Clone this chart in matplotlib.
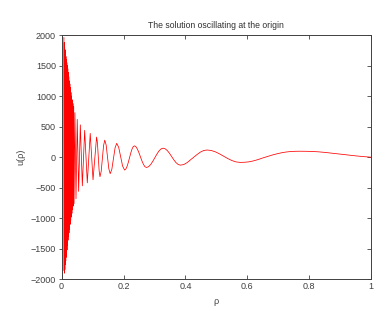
"""Wykres: rozwiazanie oscylujace w poczatku ukladu"""
import numpy as np
import matplotlib
matplotlib.use('Agg')
import matplotlib.pyplot as plt

# punkty - gesta czesc przy zerze (tylko ekstrema)
RHO_NEAR = [0.0075, 0.0081, 0.0087, 0.0093, 0.0099, 0.0106, 0.0113, 0.0120,
            0.0127, 0.0134, 0.0141, 0.0148, 0.0155, 0.0162, 0.0169, 0.0176,
            0.0184, 0.0192, 0.0200, 0.0208, 0.0216, 0.0224, 0.0232, 0.0240,
            0.0249, 0.0258, 0.0267, 0.0276, 0.0285, 0.0294, 0.0303, 0.0313,
            0.0323, 0.0333, 0.0344, 0.0355, 0.0366, 0.0378, 0.0390, 0.0402,
            0.0430, 0.0465, 0.0505, 0.0550, 0.0605, 0.0670, 0.0745, 0.0830,
            0.0925, 0.1015]
U_NEAR = [1960, -1860, 1880, -1900, 1800, -1840, 1760, -1760,
          1700, -1700, 1650, -1640, 1600, -1580, 1550, -1520,
          1500, -1440, 1450, -1360, 1390, -1300, 1320, -1240,
          1250, -1180, 1200, -1100, 1140, -1040, 1060, -980,
          1000, -920, 940, -860, 880, -800, 830, -760,
          730, -680, 620, -560, 530, -470, 440, -420,
          390, -370]

# srodek - fale juz rozroznialne
RHO_MID = [0.1130, 0.1158, 0.1185, 0.1213, 0.1240, 0.1279, 0.1318, 0.1356,
           0.1395, 0.1439, 0.1483, 0.1526, 0.1570, 0.1623, 0.1675, 0.1728,
           0.1780, 0.1844, 0.1908, 0.1971]
U_MID = [330, 235, 5, -225, -320, -232, -20, 192,
         280, 200, 5, -190, -270, -198, -21, 155,
         227, 163, 8, -146]

# dalsza, gladka czesc krzywej
RHO_TAIL = [0.2035, 0.2074, 0.2114, 0.2153, 0.2193, 0.2232, 0.2271, 0.2311,
            0.2350, 0.2399, 0.2448, 0.2496, 0.2545, 0.2594, 0.2643, 0.2691,
            0.2740, 0.2808, 0.2875, 0.2943, 0.3010, 0.3078, 0.3145, 0.3213,
            0.3280, 0.3349, 0.3419, 0.3488, 0.3558, 0.3627, 0.3696, 0.3766,
            0.3835, 0.3943, 0.4051, 0.4159, 0.4268, 0.4376, 0.4484, 0.4592,
            0.4700, 0.4834, 0.4968, 0.5101, 0.5235, 0.5369, 0.5503, 0.5636,
            0.5770, 0.5900, 0.6050, 0.6200, 0.6350, 0.6500, 0.6650, 0.6800,
            0.6950, 0.7100, 0.7250, 0.7400, 0.7550, 0.7700, 0.7900, 0.8100,
            0.8300, 0.8500, 0.8700, 0.8900, 0.9100, 0.9300, 0.9500, 0.9750,
            1.0000]
U_TAIL = [-210, -195, -152, -88, -12, 64, 128, 171,
          186, 173, 134, 77, 9, -59, -116, -155,
          -168, -156, -122, -70, -10, 50, 102, 136,
          148, 137, 107, 62, 9, -44, -89, -119,
          -130, -121, -90, -45, 0, 44, 84, 110,
          118, 110, 88, 55, 16, -22, -55, -77,
          -85, -83, -76, -60, -38, -12, 12, 35,
          55, 72, 85, 93, 97, 98, 97, 94,
          88, 79, 68, 57, 45, 33, 22, 10,
          0]

X_TICKS = [0, 0.2, 0.4, 0.6, 0.8, 1]
X_LABELS = ['0', '0.2', '0.4', '0.6', '0.8', '1']
Y_TICKS = [-2000, -1500, -1000, -500, 0, 500, 1000, 1500, 2000]

plt.rcParams['font.family'] = ['Liberation Sans', 'DejaVu Sans']
plt.rcParams['font.size'] = 6.5

rho = np.array(RHO_NEAR + RHO_MID + RHO_TAIL)
u = np.array(U_NEAR + U_MID + U_TAIL)

fig = plt.figure(figsize=(3.85, 3.11), dpi=100)
ax = fig.add_axes([0.160, 0.102, 0.804, 0.785])
ax.plot(rho, u, color='red', linewidth=0.55)

ax.set_xlim(0, 1)
ax.set_ylim(-2000, 2000)
ax.set_xticks(X_TICKS)
ax.set_xticklabels(X_LABELS)
ax.set_yticks(Y_TICKS)
# ticki jak w matlabie - do srodka, po lewej krotkie na zewnatrz
ax.tick_params(direction='in', top=True, right=True, length=3, width=0.6,
               colors='#404040', labelcolor='#404040', pad=2)
ax.yaxis.set_tick_params(direction='out', length=2.5, pad=1.5)
ax.tick_params(axis='y', right=True, labelright=False)
for tick in ax.yaxis.get_major_ticks():
    tick.tick2line.set_marker(matplotlib.lines.TICKLEFT)
    tick.tick2line.set_markersize(3)
for spine in ax.spines.values():
    spine.set_color('#404040')
    spine.set_linewidth(0.7)

ax.set_title('The solution oscillating at the origin', color='#303030',
             fontsize=6.2, pad=5)
ax.set_xlabel('ρ', color='#404040', labelpad=4)
ax.set_ylabel('u(ρ)', color='#404040', labelpad=4)

fig.savefig('out.png', dpi=100, facecolor='white')
